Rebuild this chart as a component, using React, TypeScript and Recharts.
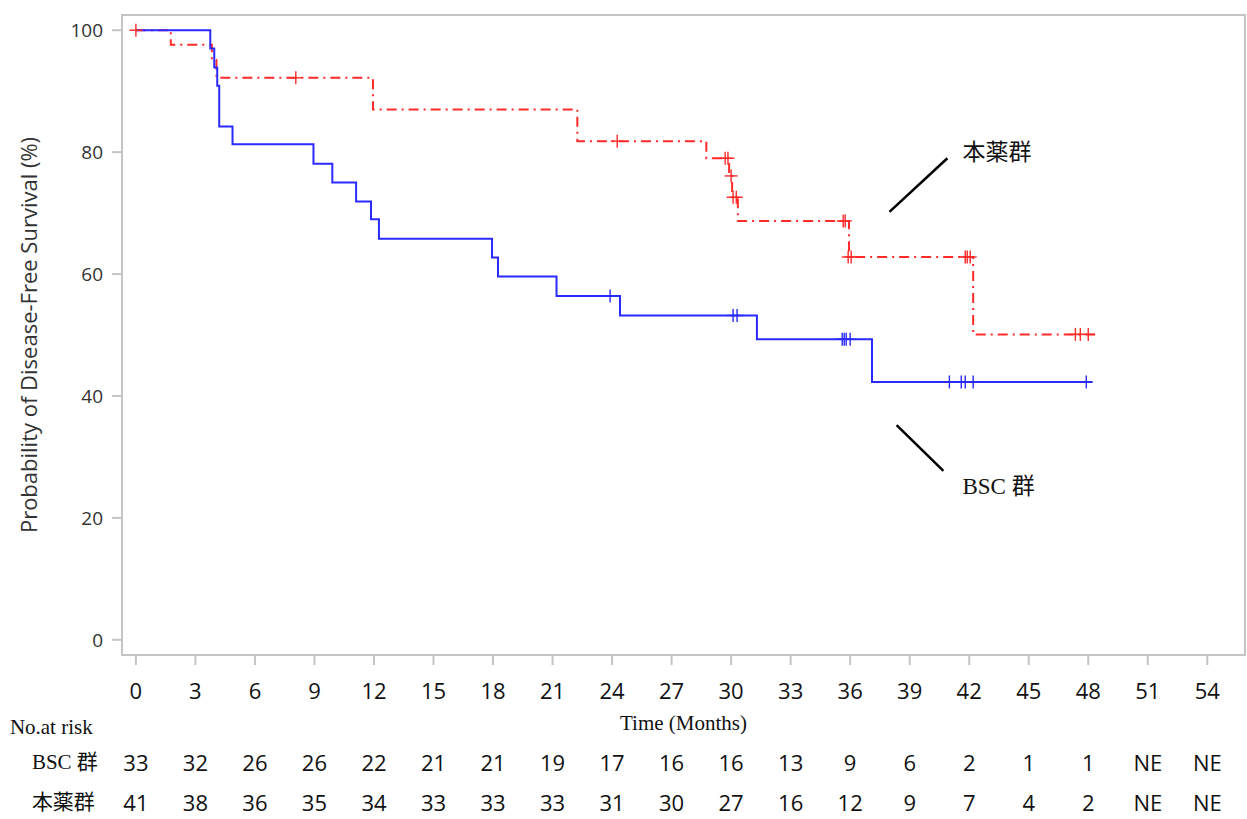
import {
  ComposedChart,
  Line,
  Scatter,
  XAxis,
  YAxis,
  ReferenceArea,
  ReferenceLine,
  ReferenceDot,
} from 'recharts'

// Kaplan-Meier steps (months, % disease-free)
const bscTimes = [0, 3.75, 3.95, 4.1, 4.2, 4.87, 8.95, 9.9, 11.1, 11.85, 12.25, 17.95, 18.25, 21.2, 24.4, 31.3, 37.1, 48.2]
const bscSurv = [100, 97.0, 93.9, 90.9, 84.2, 81.3, 78.1, 75.0, 71.9, 69.0, 65.8, 62.7, 59.6, 56.4, 53.2, 49.3, 42.3, 42.3]
const bscCensorT = [23.9, 30.1, 30.3, 35.6, 35.7, 35.8, 36.0, 41.0, 41.6, 41.8, 42.2, 47.9]
const bscCensorS = [56.4, 53.2, 53.2, 49.3, 49.3, 49.3, 49.3, 42.3, 42.3, 42.3, 42.3, 42.3]

const drugTimes = [0, 1.76, 3.83, 4.06, 11.95, 22.25, 28.75, 29.9, 30.05, 30.34, 35.94, 42.2, 48.35]
const drugSurv = [100, 97.6, 95.1, 92.2, 87.0, 81.8, 79.0, 76.1, 72.6, 68.7, 62.8, 50.1, 50.1]
const drugCensorT = [0, 8.06, 24.26, 29.7, 29.84, 30.0, 30.1, 30.26, 35.65, 35.75, 35.9, 36.05, 41.8, 41.9, 42.05, 47.35, 47.6, 48.0]
const drugCensorS = [100, 92.2, 81.8, 79.0, 79.0, 76.1, 72.6, 72.6, 68.7, 68.7, 62.8, 62.8, 62.8, 62.8, 62.8, 50.1, 50.1, 50.1]

const xTicks = [0, 3, 6, 9, 12, 15, 18, 21, 24, 27, 30, 33, 36, 39, 42, 45, 48, 51, 54]
const yTicks = [0, 20, 40, 60, 80, 100]
const bscRisk = ['33', '32', '26', '26', '22', '21', '21', '19', '17', '16', '16', '13', '9', '6', '2', '1', '1', 'NE', 'NE']
const drugRisk = ['41', '38', '36', '35', '34', '33', '33', '33', '31', '30', '27', '16', '12', '9', '7', '4', '2', 'NE', 'NE']

const BSC_NAME = 'BSC 群'
const DRUG_NAME = '本薬群'

const BLUE = '#2a2aff'
const RED = '#ff2a2a'
const GRAY = '#c4c4c4'
const SANS = '"Open Sans", "Noto Sans CJK JP", sans-serif'
const SERIF = '"Liberation Serif", "Noto Sans CJK JP", serif'

const bscCurve = bscTimes.map((t, i) => ({ t, s: bscSurv[i] }))
const drugCurve = drugTimes.map((t, i) => ({ t, s: drugSurv[i] }))
const bscCensor = bscCensorT.map((t, i) => ({ t, s: bscCensorS[i] }))
const drugCensor = drugCensorT.map((t, i) => ({ t, s: drugCensorS[i] }))

function Plus({ cx, cy, color }: any) {
  if (cx == null || cy == null) return null
  const h = 6.5
  return (
    <g stroke={color} strokeWidth={1.4}>
      <line x1={cx - h} y1={cy} x2={cx + h} y2={cy} />
      <line x1={cx} y1={cy - h} x2={cx} y2={cy + h} />
    </g>
  )
}

// x tick label plus the number-at-risk table under it
function RiskTick({ x, y, payload }: any) {
  const i = xTicks.indexOf(payload.value)
  return (
    <g fontFamily={SANS} fontSize={22} fill="#111">
      <text x={x} y={y + 25} textAnchor="middle" dominantBaseline="central">
        {payload.value}
      </text>
      <text x={x} y={y + 97} textAnchor="middle" dominantBaseline="central">
        {bscRisk[i]}
      </text>
      <text x={x} y={y + 137} textAnchor="middle" dominantBaseline="central">
        {drugRisk[i]}
      </text>
      {i === 0 && (
        <g fontFamily={SERIF} fontSize={21}>
          <text x={x - 126} y={y + 62} dominantBaseline="central">No.at risk</text>
          <text x={x - 38} y={y + 97} textAnchor="end" dominantBaseline="central">{BSC_NAME}</text>
          <text x={x - 41} y={y + 137} textAnchor="end" dominantBaseline="central">{DRUG_NAME}</text>
        </g>
      )}
    </g>
  )
}

function YLabel({ viewBox }: any) {
  const cx = viewBox.x + 28
  const cy = viewBox.y + viewBox.height / 2
  return (
    <text
      transform={`translate(${cx}, ${cy}) rotate(-90)`}
      textAnchor="middle"
      dominantBaseline="central"
      fontFamily={SANS}
      fontSize={22}
      fill="#333"
    >
      Probability of Disease-Free Survival (%)
    </text>
  )
}

function XLabel({ viewBox }: any) {
  return (
    <text
      x={viewBox.x + viewBox.width / 2}
      y={viewBox.y + 68}
      textAnchor="middle"
      dominantBaseline="central"
      fontFamily={SERIF}
      fontSize={21}
      fill="#111"
    >
      Time (Months)
    </text>
  )
}

function NameTag({ cx, cy, text }: any) {
  return (
    <text x={cx} y={cy} dominantBaseline="central" fontFamily={SERIF} fontSize={23} fill="#111">
      {text}
    </text>
  )
}

export default function App() {
  return (
    <div style={{ position: 'absolute', left: 0, top: 0, background: '#fff' }}>
      <ComposedChart width={1247} height={819} margin={{ top: 15, right: 2, left: 0, bottom: 0 }}>
        <XAxis
          dataKey="t"
          type="number"
          domain={[-0.7, 55.9]}
          ticks={xTicks}
          interval={0}
          allowDataOverflow
          height={164}
          axisLine={{ stroke: GRAY, strokeWidth: 2 }}
          tickLine={{ stroke: GRAY, strokeWidth: 2 }}
          tickSize={10}
          tickMargin={0}
          tick={<RiskTick />}
          label={<XLabel />}
        />
        <YAxis
          dataKey="s"
          type="number"
          domain={[-2.5, 102.5]}
          ticks={yTicks}
          allowDataOverflow
          width={122}
          axisLine={{ stroke: GRAY, strokeWidth: 2 }}
          tickLine={{ stroke: GRAY, strokeWidth: 2 }}
          tickSize={10}
          tickMargin={9}
          tick={{ fill: '#333', fontSize: 19, fontFamily: SANS }}
          label={<YLabel />}
        />
        <ReferenceArea x1={-0.7} x2={55.9} y1={-2.5} y2={102.5} fill="none" stroke={GRAY} strokeWidth={2} />

        <Line
          data={drugCurve}
          dataKey="s"
          type="stepAfter"
          stroke={RED}
          strokeWidth={2}
          strokeDasharray="10 5 2 5"
          dot={false}
          activeDot={false}
          isAnimationActive={false}
        />
        <Line
          data={bscCurve}
          dataKey="s"
          type="stepAfter"
          stroke={BLUE}
          strokeWidth={2}
          dot={false}
          activeDot={false}
          isAnimationActive={false}
        />
        <Scatter data={drugCensor} dataKey="s" shape={<Plus color={RED} />} isAnimationActive={false} />
        <Scatter data={bscCensor} dataKey="s" shape={<Plus color={BLUE} />} isAnimationActive={false} />

        {/* leader lines and group names */}
        <ReferenceLine segment={[{ x: 37.98, y: 70.2 }, { x: 40.9, y: 79.0 }]} stroke="#000" strokeWidth={2.5} />
        <ReferenceLine segment={[{ x: 38.34, y: 35.2 }, { x: 40.7, y: 27.7 }]} stroke="#000" strokeWidth={2.5} />
        <ReferenceDot x={41.66} y={80.0} r={0} shape={<NameTag text={DRUG_NAME} />} />
        <ReferenceDot x={41.66} y={25.2} r={0} shape={<NameTag text={BSC_NAME} />} />
      </ComposedChart>
    </div>
  )
}
